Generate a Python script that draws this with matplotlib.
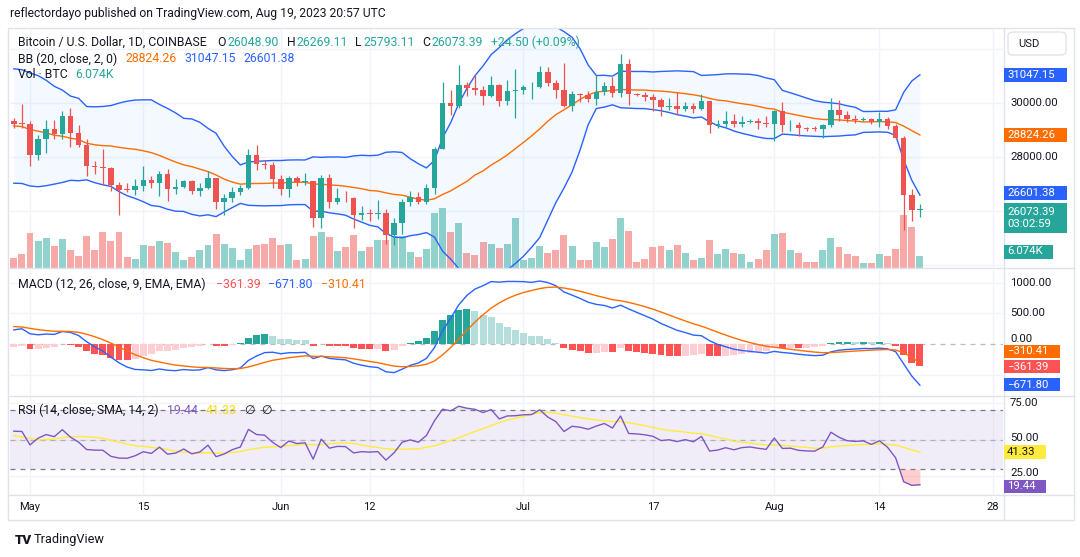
import numpy as np
import pandas as pd
import matplotlib
matplotlib.use('Agg')
import matplotlib.pyplot as plt
import matplotlib.dates as mdates
import matplotlib.transforms as mtransforms
from matplotlib.patches import Rectangle, FancyBboxPatch
from matplotlib.lines import Line2D

# ------------------------------------------------------------------ data
first_day = '2023-04-29'
last_day = '2023-08-19'

# closes before the visible window (Feb 1 - Apr 28), needed to warm up BB / MACD / RSI
prior_close = [
    23730, 23490, 23430, 23330, 22930, 22760, 23250, 22960, 21800, 21630, 21860, 21780, 21780, 22200,
    24330, 23520, 24570, 24630, 24280, 24830, 24440, 24190, 23940, 23190, 23160, 23560, 23490, 23140,
    23640, 23470, 22360, 22350, 22430, 22410, 22200, 21700, 20360, 20190, 20630, 22160, 24200, 24750,
    24380, 25050, 27420, 26960, 28040, 27770, 28170, 27310, 28330, 27490, 27490, 27990, 27140, 27270,
    28360, 28030, 28480,
    28450, 28200, 27800, 28170, 28170, 28040, 27920, 27950, 28330, 29650, 30240, 29900, 30390, 30490,
    30320, 30320, 29440, 30390, 28820, 28250, 27260, 27820, 27590, 27520, 28300, 28420, 29470, 29340,
]

open_ = [
    29340, 29250,
    29230, 28070, 28680, 29030, 28850, 29530, 28900, 28450, 27690, 27630, 27620, 26990, 26800, 26780,
    26930, 27170, 27030, 27400, 26830, 26890, 27120, 26750, 26850, 27220, 26330, 26480, 26720, 26870,
    28080, 27740, 27700,
    27210, 26820, 27250, 27070, 27120, 25760, 27240, 26350, 26500, 26480, 25850, 25940, 25900, 25930,
    25120, 25580, 26340, 26520, 26340, 26850, 28310, 30010, 29890, 30690, 30550, 30480, 30270, 30690,
    30080, 30450,
    30480, 30590, 30620, 31160, 30770, 30510, 29890, 30350, 30290, 30170, 30420, 30630, 30390, 31450,
    30330, 30300, 30240, 30140, 29860, 29910, 29800, 29910, 29790, 30080, 29180, 29230, 29350, 29220,
    29320, 29350, 29280,
    29230, 29700, 29180, 29190, 29080, 29050, 29040, 29180, 29770, 29570, 29430, 29400, 29420, 29290,
    29410, 29170, 28700, 26620, 26048.90,
]
high = [
    29470, 29960,
    29340, 28840, 29380, 29380, 29710, 29830, 29200, 28680, 27870, 28320, 27640, 27100, 27040, 27200,
    27660, 27300, 27480, 27580, 27180, 27160, 27150, 27050, 27490, 27220, 26630, 26900, 26980, 28320,
    28450, 27910, 27840,
    27350, 27300, 27320, 27430, 27130, 27350, 27390, 26860, 26760, 26530, 26200, 26090, 26430, 26080,
    25750, 26470, 26770, 26700, 27000, 28400, 30800, 30500, 31420, 30800, 31050, 30650, 31000, 30710,
    30850, 31280,
    30660, 30780, 31390, 31330, 30880, 31500, 30450, 30390, 30440, 31050, 30800, 30990, 31820, 31650,
    30390, 30430, 30340, 30210, 30200, 30420, 30060, 30000, 30340, 30100, 29380, 29700, 29590, 29530,
    29420, 29470, 29530,
    29740, 30050, 29400, 29320, 29110, 29160, 29250, 30190, 30130, 29700, 29560, 29480, 29450, 29680,
    29480, 29230, 28780, 26830, 26269.11,
]
low = [
    29100, 29100,
    27690, 27910, 28150, 28690, 28690, 28400, 28400, 27300, 27390, 26980, 26750, 25860, 26700, 26610,
    26750, 26880, 26580, 26380, 26630, 26850, 26650, 26550, 26830, 26090, 25880, 26340, 26590, 26830,
    27540, 27550, 26860,
    26610, 26530, 26950, 26970, 25420, 25380, 26120, 26280, 26350, 25400, 25680, 25640, 25730, 24800,
    24750, 25170, 26200, 26270, 26280, 26650, 28290, 29580, 29830, 30260, 30290, 29920, 30230, 29900,
    29920, 29440,
    30330, 30170, 30580, 30640, 30200, 29850, 29700, 30050, 30040, 29950, 30320, 30240, 30250, 29940,
    30260, 30100, 29700, 29530, 29760, 29570, 29730, 29640, 29740, 28900, 29070, 29110, 29110, 29130,
    29280, 29050, 29110,
    28590, 28930, 28960, 28780, 28980, 28990, 28700, 29140, 29350, 29310, 29260, 29330, 29230, 29110,
    29050, 28680, 25300, 25650, 25793.11,
]
close = [
    29250, 29230,
    28070, 28680, 29030, 28850, 29530, 28900, 28450, 27690, 27630, 27620, 26990, 26800, 26780, 26930,
    27170, 27030, 27400, 26830, 26890, 27120, 26750, 26850, 27220, 26330, 26480, 26720, 26870, 28080,
    27740, 27700, 27210,
    26820, 27250, 27070, 27120, 25760, 27240, 26350, 26500, 26480, 25850, 25940, 25900, 25930, 25120,
    25580, 26340, 26520, 26340, 26850, 28310, 30010, 29890, 30690, 30550, 30480, 30270, 30690, 30080,
    30450, 30480,
    30590, 30620, 31160, 30770, 30510, 29890, 30350, 30290, 30170, 30420, 30630, 30390, 31450, 30330,
    30300, 30240, 30140, 29860, 29910, 29800, 29910, 29790, 30080, 29180, 29230, 29350, 29220, 29320,
    29350, 29280, 29230,
    29700, 29180, 29190, 29080, 29050, 29040, 29180, 29770, 29570, 29430, 29400, 29420, 29290, 29410,
    29170, 28700, 26620, 26048.89, 26073.39,
]
volume = [
    4900, 7050,
    17500, 13100, 14800, 10700, 14400, 8700, 6100, 15600, 9000, 18000, 13100, 18000, 5200, 4600,
    11500, 11000, 13100, 12300, 7700, 3800, 5400, 8700, 11500, 16900, 12000, 9800, 3800, 9500,
    11200, 12000, 14900,
    11500, 12000, 4100, 4600, 15900, 17900, 15300, 8200, 10300, 16400, 8500, 10300, 13900, 13900,
    15900, 15900, 7700, 5600, 9500, 27400, 29500, 17900, 22000, 7200, 6600, 12600, 11800, 10000,
    12000, 24600,
    4100, 4900, 11000, 7400, 9000, 16400, 11000, 4100, 4100, 12600, 10500, 14400, 24600, 18400,
    3100, 4600, 10500, 11000, 9000, 11500, 7500, 4100, 4900, 13900, 7100, 9500, 7500, 7100,
    3100, 4600, 9000,
    16900, 17400, 9000, 7500, 3100, 3100, 9000, 14900, 10500, 7100, 6100, 2600, 2600, 7100,
    6100, 9500, 26200, 20300, 6074,
]

time_ticks = ['2023-05-01', '2023-05-15', '2023-06-01', '2023-06-12', '2023-07-01',
              '2023-07-17', '2023-08-01', '2023-08-14', '2023-08-28']
time_labels = ['May', '15', 'Jun', '12', 'Jul', '17', 'Aug', '14', '28']

# ------------------------------------------------------------------ indicators
n = len(close)
dates = pd.date_range(first_day, last_day, freq='D')
assert len(dates) == n == len(open_) == len(high) == len(low) == len(volume)
xd = mdates.date2num(dates)
o = np.array(open_, float); h = np.array(high, float)
l = np.array(low, float); c = np.array(close, float); v = np.array(volume, float)

s = pd.Series(np.r_[prior_close, close], dtype=float)
basis = s.rolling(20).mean()
dev = s.rolling(20).std(ddof=0)
bb_mid = basis.values[-n:]
bb_up = (basis + 2 * dev).values[-n:]
bb_lo = (basis - 2 * dev).values[-n:]
macd_s = s.ewm(span=12, adjust=False).mean() - s.ewm(span=26, adjust=False).mean()
sig_s = macd_s.ewm(span=9, adjust=False).mean()
hist_s = macd_s - sig_s
hprev = hist_s.shift(1)
hcol_all = np.where(hist_s >= 0,
                    np.where(hist_s > hprev, '#26a69a', '#b2dfdb'),
                    np.where(hist_s < hprev, '#ff5252', '#ffcdd2'))
macd = macd_s.values[-n:]; sig = sig_s.values[-n:]; hist = hist_s.values[-n:]
hcol = hcol_all[-n:]
dlt = s.diff().iloc[1:]
gain = dlt.clip(lower=0).ewm(alpha=1 / 14, adjust=False).mean()
loss = (-dlt.clip(upper=0)).ewm(alpha=1 / 14, adjust=False).mean()
rsi_s = 100 - 100 / (1 + gain / loss)
rsi_ma_s = rsi_s.rolling(14).mean()
rsi = rsi_s.values[-n:]; rsi_ma = rsi_ma_s.values[-n:]

# ------------------------------------------------------------------ figure
W, H = 1080, 557
FONT = ['Roboto', 'DejaVu Sans']
plt.rcParams['font.family'] = FONT
TXT = '#131722'
GRID = '#f0f3fa'
SEP = '#e0e3eb'
UP, DN = '#26a69a', '#ef5350'

fig = plt.figure(figsize=(W / 100, H / 100), dpi=100)
fig.patch.set_facecolor('white')


def px_axes(x0, y0, x1, y1, **kw):
    return fig.add_axes([x0 / W, 1 - y1 / H, (x1 - x0) / W, (y1 - y0) / H], **kw)


L, R = 10, 1003
may1 = mdates.date2num(pd.Timestamp('2023-05-01'))
PXD = 8.09
xlim = (may1 + (L - 30) / PXD, may1 + (R - 30) / PXD)
tick_x = mdates.date2num(pd.to_datetime(time_ticks))


def clean(a):
    for sp in a.spines.values():
        sp.set_visible(False)
    a.set_xticks([]); a.set_yticks([])
    a.set_xlim(*xlim)


# ---- price pane
vax = px_axes(L, 28, R, 268)
ax = px_axes(L, 28, R, 268)
ax.patch.set_visible(False)
clean(vax); clean(ax)
ax.set_ylim(23900, 32789)
vax.set_ylim(0, 118500)
tr = mtransforms.blended_transform_factory(vax.transAxes, ax.transData)
for p in [24000, 26000, 28000, 30000, 32000]:
    vax.add_line(Line2D([0, 1], [p, p], transform=tr, color=GRID, lw=1, zorder=0))
for tx in tick_x:
    vax.axvline(tx, color=GRID, lw=1, zorder=0)
up = c >= o
vcol = np.where(up, '#92d2cc', '#f7a9a7')
vax.bar(xd, v, width=0.86, color=vcol, linewidth=0, zorder=2)

ax.fill_between(xd, bb_lo, bb_up, color='#2196f3', alpha=0.05, lw=0, zorder=1)
ax.plot(xd, bb_up, color='#2962ff', lw=1.0, zorder=2)
ax.plot(xd, bb_lo, color='#2962ff', lw=1.0, zorder=2)
ax.plot(xd, bb_mid, color='#ff6d00', lw=1.0, zorder=2)
ccol = np.where(up, UP, DN)
ax.vlines(xd, l, h, colors=ccol, lw=0.9, zorder=3)
body_lo = np.minimum(o, c)
body_h = np.maximum(np.abs(c - o), 30)
ax.bar(xd, body_h, bottom=body_lo, width=0.68, color=ccol, linewidth=0, zorder=4)

# ---- MACD pane
mx = px_axes(L, 270, R, 395)
clean(mx)
mx.set_ylim(-833, 1209)
for p in [-500, 500, 1000]:
    mx.axhline(p, color=GRID, lw=1, zorder=0)
for tx in tick_x:
    mx.axvline(tx, color=GRID, lw=1, zorder=0)
mx.axhline(0, color='#787b86', alpha=0.5, lw=0.9, ls=(0, (4, 4)), zorder=1)
mx.bar(xd, hist, width=0.86, color=hcol, linewidth=0, zorder=2)
mx.plot(xd, macd, color='#2962ff', lw=1.0, zorder=3)
mx.plot(xd, sig, color='#ff6d00', lw=1.0, zorder=3)

# ---- RSI pane
rx = px_axes(L, 396, R, 494)
clean(rx)
rx.set_ylim(13.05, 79.5)
for p in [25, 50, 75]:
    rx.axhline(p, color=GRID, lw=1, zorder=0)
for tx in tick_x:
    rx.axvline(tx, color=GRID, lw=1, zorder=0)
rx.axhspan(30, 70, color='#7e57c2', alpha=0.1, lw=0, zorder=1)
rx.axhline(70, color='#787b86', lw=0.9, ls=(0, (4, 4)), zorder=2)
rx.axhline(50, color='#787b86', alpha=0.5, lw=0.9, ls=(0, (4, 4)), zorder=2)
rx.axhline(30, color='#787b86', lw=0.9, ls=(0, (4, 4)), zorder=2)
rx.fill_between(xd, 70, rsi, where=rsi > 70, interpolate=True, color='#4caf50', alpha=0.18, lw=0, zorder=2)
rx.fill_between(xd, 30, rsi, where=rsi < 30, interpolate=True, color='#ff5252', alpha=0.28, lw=0, zorder=2)
rx.plot(xd, rsi_ma, color='#ffeb3b', lw=1.0, zorder=3)
rx.plot(xd, rsi, color='#7e57c2', lw=1.0, zorder=4)

# ---- time axis
tax = px_axes(L, 494, R, 520)
clean(tax)
tax.set_ylim(0, 1)
for tx, lab in zip(tick_x, time_labels):
    tax.text(tx, 0.5, lab, ha='center', va='center', fontsize=8, color=TXT)

# ------------------------------------------------------------------ frame & separators
def fline(x0, y0, x1, y1, col=SEP, lw=1.0):
    fig.add_artist(Line2D([x0 / W, x1 / W], [1 - y0 / H, 1 - y1 / H], transform=fig.transFigure,
                          color=col, lw=lw, zorder=2))

fig.add_artist(Rectangle((8 / W, 1 - 520 / H), (1074 - 8) / W, (520 - 28) / H, transform=fig.transFigure,
                         facecolor='none', edgecolor=SEP, lw=1.0, zorder=2))
fline(8, 268.5, 1074, 268.5)
fline(8, 395.5, 1074, 395.5)
fline(8, 494.5, 1074, 494.5)
fline(1003.5, 28, 1003.5, 520)
fig.add_artist(FancyBboxPatch((1008 / W, 1 - 55 / H), 58 / W, 23 / H, boxstyle='round,pad=0,rounding_size=0.006',
                              transform=fig.transFigure, facecolor='white', edgecolor=SEP, lw=1.0, zorder=2))
fig.text(1018 / W, 1 - 44 / H, 'USD', fontsize=8, color=TXT, va='center', ha='left')

# ------------------------------------------------------------------ right scale labels
def scale_text(y, t):
    fig.text(1010 / W, 1 - y / H, t, fontsize=8.2, color=TXT, va='center', ha='left', zorder=3)


def scale_box(y, t, bg, fg='white', hgt=14, nch=None):
    nch = nch if nch is not None else len(t.split('\n')[0])
    w = 6 + 7.1 * nch
    fig.add_artist(Rectangle((1004 / W, 1 - (y + hgt / 2) / H), w / W, hgt / H, transform=fig.transFigure,
                             facecolor=bg, edgecolor='none', zorder=5))
    fig.text(1007 / W, 1 - y / H, t, fontsize=8.2, color=fg, va='center', ha='left', zorder=6,
             linespacing=1.25)


scale_text(103.3, '30000.00')
scale_text(157.3, '28000.00')
scale_box(75.0, '31047.15', '#2962ff')
scale_box(135.0, '28824.26', '#ff6d00')
scale_box(193.3, '26601.38', '#2962ff')
scale_box(218.3, '26073.39\n03:02:59', '#26a69a', hgt=30)
scale_box(251.5, '6.074K', '#26a69a')
scale_text(282.7, '1000.00')
scale_text(313.3, '500.00')
scale_text(339.5, '0.00')
scale_box(351.5, '\u2212310.41', '#ff6d00', hgt=13)
scale_box(366.5, '\u2212361.39', '#ff5252', hgt=13)
scale_box(384.5, '\u2212671.80', '#2962ff', hgt=13)
scale_text(402.7, '75.00')
scale_text(438.3, '50.00')
scale_text(473.0, '25.00')
scale_box(452.3, '41.33', '#ffeb3b', fg=TXT)
scale_box(486.0, '19.44', '#7e57c2', hgt=13)

# ------------------------------------------------------------------ legends
renderer = fig.canvas.get_renderer()


def seq_text(x0, y, parts, size=8.8):
    x = x0
    for t, col, gap in parts:
        tt = fig.text(x / W, 1 - y / H, t, color=col, fontsize=size, va='center', ha='left', zorder=4)
        x += tt.get_window_extent(renderer).width + gap


G = '#26a69a'
fig.text(10 / W, 1 - 14 / H, 'reflectordayo published on TradingView.com, Aug 19, 2023 20:57 UTC',
         fontsize=8.75, color=TXT, va='center', ha='left')
seq_text(18, 42, [('Bitcoin / U.S. Dollar, 1D, COINBASE', TXT, 11),
                  ('O', TXT, 1), ('26048.90', G, 8), ('H', TXT, 1), ('26269.11', G, 8),
                  ('L', TXT, 1), ('25793.11', G, 8), ('C', TXT, 1), ('26073.39', G, 8),
                  ('+24.50 (+0.09%)', G, 0)])
seq_text(18, 59, [('BB (20, close, 2, 0)', TXT, 8), ('28824.26', '#ff6d00', 8),
                  ('31047.15', '#2962ff', 8), ('26601.38', '#2962ff', 0)])
seq_text(18, 75, [('Vol \u00b7 BTC', TXT, 8), ('6.074K', G, 0)])
seq_text(18, 284, [('MACD (12, 26, close, 9, EMA, EMA)', TXT, 10), ('\u2212361.39', '#ff5252', 8),
                   ('\u2212671.80', '#2962ff', 8), ('\u2212310.41', '#ff6d00', 0)])
seq_text(18, 410, [('RSI (14, close, SMA, 14, 2)', TXT, 8), ('19.44', '#7e57c2', 8),
                   ('41.33', '#f5d90a', 8), ('\u2205', TXT, 6), ('\u2205', TXT, 0)])

# ------------------------------------------------------------------ footer
fig.text(15 / W, 1 - 540 / H, 'TV', fontsize=9.5, fontweight='black', color=TXT, va='center', ha='left')
fig.text(34 / W, 1 - 540 / H, 'TradingView', fontsize=9.2, color=TXT, va='center', ha='left')

fig.savefig('out.png', dpi=100, facecolor='white')
